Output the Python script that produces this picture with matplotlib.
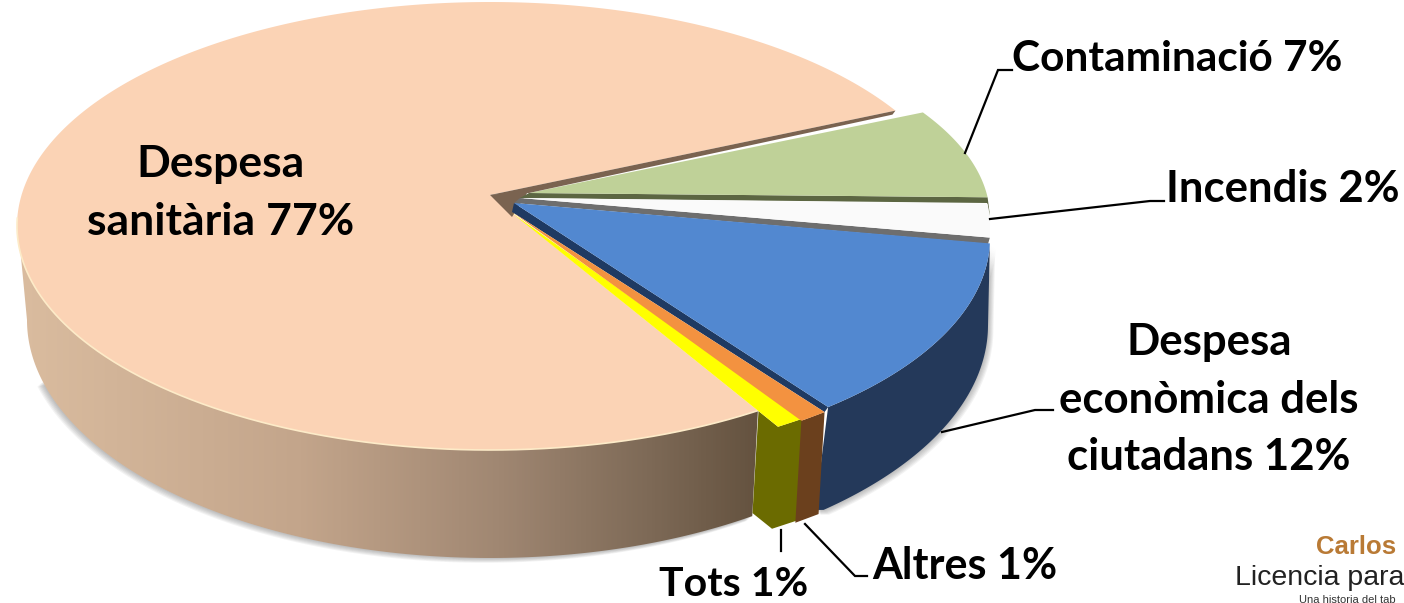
import numpy as np
import matplotlib
matplotlib.use('Agg')
import matplotlib.pyplot as plt
from matplotlib.colors import LinearSegmentedColormap
from matplotlib.patches import Polygon

plt.rcParams['font.family'] = ['Lato', 'DejaVu Sans']

# Data: slices in drawing order, counter clockwise from the top right
names = ['Despesa sanitària', 'Tots', 'Altres', 'Despesa econòmica dels ciutadans', 'Incendis', 'Contaminació']
values = [77, 1, 1, 12, 2, 7]

# Slice angles come from the values, the nudge is the perspective of the fake 3D
start_angle = 31
nudge = [-5, -5, -5, 0, 0, 0]
big_cut = 1.3
ends = start_angle + np.cumsum(values) * 3.6 + np.array(nudge)
starts = np.concatenate([[start_angle], ends[:-1]])

# Ellipse of each top face: centre x, centre y, half width, half height
top = [(490, 226, 473, 224), (519, 241, 473, 222), (518, 243, 473, 222),
       (530, 238, 460, 222), (517, 231, 473, 270), (520, 218, 470, 205)]
apex = [(490, 195), (512, 213), (512, 212), (514, 203), (520, 198), (529, 193)]
top_colors = ['#FBD3B5', '#FFFF00', '#F39240', '#5288D0', '#FAFAFA', '#BFD198']
big_bottom = (490, 320, 463, 238)
blue_bottom = (510, 325, 478, 245)
depth = np.array([-6, 102])


def arc(ell, a1, a2, n=200):
    t = np.radians(np.linspace(a1, a2, n))
    return np.column_stack([ell[0] + ell[2] * np.cos(t), ell[1] - ell[3] * np.sin(t)])


def block(ax, p_in, p1, p2, color):
    # small outer wall of the thin slices, with the cut face on the left
    pts = [p_in, p1, p2, p2 + depth, p1 + depth, p_in + depth]
    ax.add_patch(Polygon(pts, closed=True, fc=color, ec='none', zorder=6))


fig = plt.figure(figsize=(14.04, 6.03), dpi=100)
ax = fig.add_axes([0, 0, 1, 1])

big_end = ends[0] + big_cut
big_wall = np.vstack([arc(top[0], 178, big_end), arc(big_bottom, big_end, 180)])
blue_wall = np.vstack([arc(top[3], starts[3], ends[3]), arc(blue_bottom, 359, 311), [(815, 510)]])
big_shadow = np.vstack([[(490, 320)], arc(big_bottom, 195, big_end)])

# Soft shadow under the walls
for i in range(1, 7):
    ax.add_patch(Polygon(big_shadow + [-i * 0.9, i * 0.8], fc='#555555', ec='none', alpha=0.07, zorder=1))
    ax.add_patch(Polygon(blue_wall + [i * 0.9, i * 0.8], fc='#555555', ec='none', alpha=0.07, zorder=1))

# Wall of the big slice with its left to right shading
shade = LinearSegmentedColormap.from_list('wall', [(0, '#DABC9F'), (0.38, '#C3A58B'),
                                                   (0.65, '#A08772'), (0.85, '#7E6A57'), (1, '#64523F')])
im = ax.imshow(np.linspace(0, 1, 400).reshape(1, -1), cmap=shade, extent=(18, 760, 565, 220),
               aspect='auto', zorder=2, interpolation='bilinear')
wall_patch = Polygon(big_wall, transform=ax.transData, fc='none', ec='none')
ax.add_patch(wall_patch)
im.set_clip_path(wall_patch)

# Top of the big slice
big_arc = arc(top[0], starts[0], big_end, 500)
ax.add_patch(Polygon(np.vstack([[apex[0]], big_arc]), fc=top_colors[0], ec='none', zorder=3))
front = arc(top[0], 178, big_end, 300)
ax.plot(front[:, 0], front[:, 1], color='#FDEBC8', lw=1.2, zorder=4)

# Cut face of the big slice, seen through the gap
ax.add_patch(Polygon([apex[0], (529, 190), (512, 217)], fc='#7A6350', ec='none', zorder=4))
ax.add_patch(Polygon([apex[0], big_arc[0], big_arc[0] + [-3, 4], (529, 193)], fc='#7A6350', ec='none', zorder=8))

# Blue slice wall and its cut face
ax.add_patch(Polygon(blue_wall, fc='#24395A', ec='none', zorder=5))
blue_arc = arc(top[3], starts[3], ends[3])
o_arc = arc(top[2], starts[2], ends[2], 20)
ax.add_patch(Polygon([apex[3], blue_arc[0], o_arc[-1], apex[2]], fc='#1F3A62', ec='none', zorder=5))

# Small walls of the yellow and orange slices
y_arc = arc(top[1], starts[1], ends[1], 20)
y_dir = np.array(apex[1]) - y_arc[0]
block(ax, y_arc[0] + y_dir / np.linalg.norm(y_dir) * 25, y_arc[0], y_arc[-1], '#6B6B00')
ax.add_patch(Polygon([o_arc[0], o_arc[-1], o_arc[-1] + depth, o_arc[0] + depth], fc='#6B401D', ec='none', zorder=6))

# Grey and dark green cut faces under the white and green slices
w_arc = arc(top[4], starts[4], ends[4])
g_arc = arc(top[5], starts[5], ends[5])
ax.add_patch(Polygon([apex[4], w_arc[0], (988, 244), apex[3]], fc='#6E6E6E', ec='none', zorder=5))
ax.add_patch(Polygon([apex[5], g_arc[0], (990, 216), (987, 203), apex[4]], fc='#5C6642', ec='none', zorder=5))

# Top faces of the other slices
for i in range(1, len(values)):
    pts = np.vstack([[apex[i]], arc(top[i], starts[i], ends[i])])
    ax.add_patch(Polygon(pts, fc=top_colors[i], ec='none', zorder=7))

# Leader lines
leaders = [[(965, 153), (998, 70), (1012, 70)],
           [(990, 219), (1150, 201), (1164, 201)],
           [(942, 432), (1035, 410), (1053, 410)],
           [(805, 524), (855, 576), (867, 576)],
           [(781, 530), (781, 551)]]
for line in leaders:
    xs, ys = zip(*line)
    ax.plot(xs, ys, color='black', lw=1.6, zorder=8, solid_joinstyle='miter')

# Labels
style = dict(fontweight='bold', color='black', zorder=9, va='center')
ax.text(221, 164, 'Despesa', ha='center', fontsize=32, **style)
ax.text(221, 222, 'sanitària 77%', ha='center', fontsize=32, **style)
ax.text(1012, 59, 'Contaminació 7%', ha='left', fontsize=30.5, **style)
ax.text(1166, 189, 'Incendis 2%', ha='left', fontsize=31.5, **style)
ax.text(1209, 342, 'Despesa', ha='center', fontsize=31.5, **style)
ax.text(1209, 400, 'econòmica dels', ha='center', fontsize=31.5, **style)
ax.text(1209, 457, 'ciutadans 12%', ha='center', fontsize=31.5, **style)
ax.text(872, 566, 'Altres 1%', ha='left', fontsize=31, **style)
ax.text(734, 584, 'Tots 1%', ha='center', fontsize=29.5, **style)

# Logo in the corner, cut by the edge of the picture
ax.text(1316, 547, 'Carlos', fontsize=18.5, fontweight='bold', color='#B97A35', family='Liberation Sans',
        ha='left', va='center', zorder=9)
ax.text(1235, 578, 'Licencia para', fontsize=20.5, color='#222222', family='Liberation Sans',
        ha='left', va='center', zorder=9)
ax.text(1299, 600, 'Una historia del tab', fontsize=8, color='#333333', family='Liberation Sans',
        ha='left', va='center', zorder=9)

ax.set_xlim(0, 1404)
ax.set_ylim(603, 0)
ax.axis('off')
fig.savefig('out.png', dpi=100)
